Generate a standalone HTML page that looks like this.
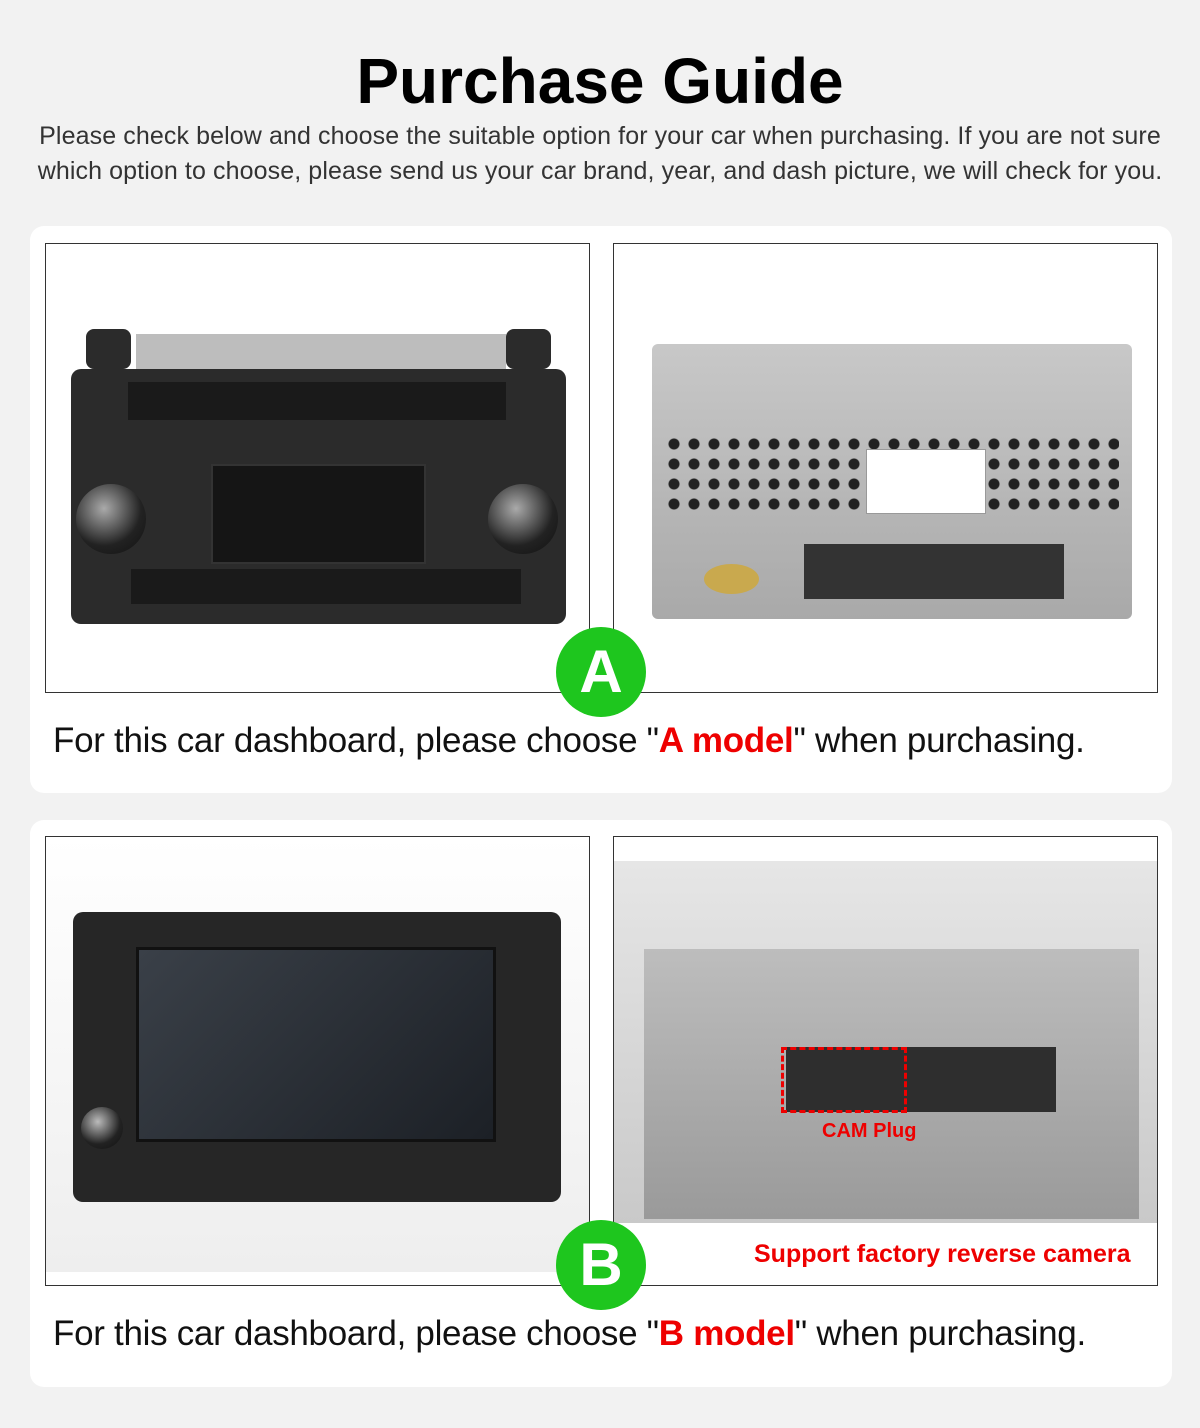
<!DOCTYPE html>
<html><head><meta charset="utf-8"><style>
*{margin:0;padding:0;box-sizing:border-box}
body{width:1200px;height:1428px;background:#f2f2f2;font-family:"Liberation Sans",sans-serif;position:relative;overflow:hidden}
.abs{position:absolute}
h1{position:absolute;top:44px;left:0;width:1200px;text-align:center;font-size:64px;font-weight:900;color:#000}
.sub{position:absolute;top:119px;left:0;width:1200px;text-align:center;font-size:25px;line-height:35px;color:#333;letter-spacing:0.1px}
.card{position:absolute;left:30px;width:1142px;background:#fff;border-radius:14px}
.box{position:absolute;width:545px;height:450px;border:1px solid #333;background:#fff;overflow:hidden}
.circ{position:absolute;width:90px;height:90px;border-radius:50%;background:#1ec61e;color:#fff;font-weight:900;font-size:60px;text-align:center;line-height:90px}
.txt{position:absolute;left:53px;font-size:35px;color:#111;letter-spacing:-0.3px}
.txt b{color:#e00}
</style></head><body>
<h1>Purchase Guide</h1>
<div class="sub">Please check below and choose the suitable option for your car when purchasing. If you are not sure<br>which option to choose, please send us your car brand, year, and dash picture, we will check for you.</div>

<div class="card" style="top:226px;height:567px"></div>
<div class="box" style="left:45px;top:243px">
  <div class="abs" style="left:90px;top:90px;width:370px;height:40px;background:#bdbdbd"></div>
  <div class="abs" style="left:25px;top:125px;width:495px;height:255px;background:#2b2b2b;border-radius:10px"></div>
  <div class="abs" style="left:40px;top:85px;width:45px;height:40px;background:#2b2b2b;border-radius:8px"></div>
  <div class="abs" style="left:460px;top:85px;width:45px;height:40px;background:#2b2b2b;border-radius:8px"></div>
  <div class="abs" style="left:82px;top:138px;width:378px;height:38px;background:#1a1a1a"></div>
  <div class="abs" style="left:165px;top:220px;width:215px;height:100px;background:#151515;border:2px solid #333"></div>
  <div class="abs" style="left:30px;top:240px;width:70px;height:70px;border-radius:50%;background:radial-gradient(circle at 40% 35%,#aaa,#222 60%,#111)"></div>
  <div class="abs" style="left:442px;top:240px;width:70px;height:70px;border-radius:50%;background:radial-gradient(circle at 40% 35%,#aaa,#222 60%,#111)"></div>
  <div class="abs" style="left:85px;top:325px;width:390px;height:35px;background:#1a1a1a"></div>
</div>
<div class="box" style="left:613px;top:243px">
  <div class="abs" style="left:38px;top:100px;width:480px;height:275px;background:linear-gradient(#c8c8c8,#a9a9a9);border-radius:6px"></div>
  <div class="abs" style="left:50px;top:190px;width:455px;height:80px;background:radial-gradient(circle,#222 5px,transparent 6px) 0 0/20px 20px"></div>
  <div class="abs" style="left:252px;top:205px;width:120px;height:65px;background:#fff;border:1px solid #999"></div>
  <div class="abs" style="left:190px;top:300px;width:260px;height:55px;background:#333"></div>
  <div class="abs" style="left:90px;top:320px;width:55px;height:30px;background:#c9a94e;border-radius:50%"></div>
</div>
<div class="circ" style="left:556px;top:627px">A</div>
<div class="txt" style="top:721px">For this car dashboard, please choose "<b>A model</b>" when purchasing.</div>

<div class="card" style="top:820px;height:567px"></div>
<div class="box" style="left:45px;top:836px">
  <div class="abs" style="left:0;top:0;width:545px;height:435px;background:linear-gradient(#fff,#eee)"></div>
  <div class="abs" style="left:27px;top:75px;width:488px;height:290px;background:#262626;border-radius:10px"></div>
  <div class="abs" style="left:90px;top:110px;width:360px;height:195px;background:linear-gradient(135deg,#3a4048,#1c2026);border:3px solid #111"></div>
  <div class="abs" style="left:35px;top:270px;width:42px;height:42px;border-radius:50%;background:radial-gradient(circle at 40% 35%,#bbb,#222 60%,#111)"></div>
</div>
<div class="box" style="left:613px;top:836px">
  <div class="abs" style="left:0;top:24px;width:545px;height:362px;background:linear-gradient(#e6e6e6,#c9c9c9)"></div>
  <div class="abs" style="left:30px;top:112px;width:495px;height:270px;background:linear-gradient(#bdbdbd,#9a9a9a)"></div>
  <div class="abs" style="left:172px;top:210px;width:270px;height:65px;background:#2e2e2e"></div>
  <div class="abs" style="left:167px;top:210px;width:126px;height:66px;border:3px dashed #e00"></div>
  <div class="abs" style="left:208px;top:283px;color:#e00;font-weight:bold;font-size:20px">CAM Plug</div>
  <div class="abs" style="left:0;top:386px;width:545px;height:64px;background:#fff"></div>
  <div class="abs" style="left:140px;top:403px;color:#e00;font-weight:bold;font-size:25px">Support factory reverse camera</div>
</div>
<div class="circ" style="left:556px;top:1220px">B</div>
<div class="txt" style="top:1314px">For this car dashboard, please choose "<b>B model</b>" when purchasing.</div>
</body></html>
